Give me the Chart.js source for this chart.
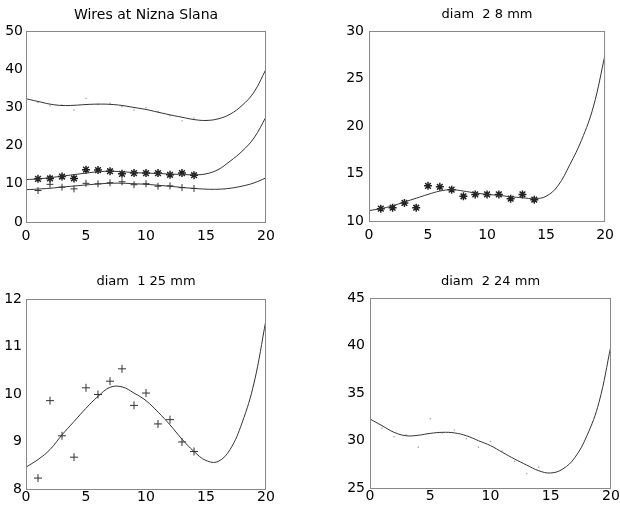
<!DOCTYPE html>
<html>
<head>
<meta charset="utf-8">
<script src="https://cdn.jsdelivr.net/npm/chart.js@4/dist/chart.umd.min.js"></script>
<style>
  body { margin: 0; background: #fff; }
  canvas { position: absolute; }
</style>
</head>
<body>
<canvas id="wires" width="310" height="256" style="left:0;top:0"></canvas>
<canvas id="d28" width="310" height="256" style="left:310px;top:0"></canvas>
<canvas id="d125" width="310" height="256" style="left:0;top:256px"></canvas>
<canvas id="d224" width="310" height="256" style="left:310px;top:256px"></canvas>
<script>
// measured points (x = 1..14)
var xPts = [1, 2, 3, 4, 5, 6, 7, 8, 9, 10, 11, 12, 13, 14];
var pts125 = [8.23, 9.86, 9.12, 8.67, 10.13, 9.99, 10.27, 10.53, 9.76, 10.02, 9.37, 9.46, 8.99, 8.79];
var pts28 = [11.3, 11.4, 11.9, 11.4, 13.7, 13.6, 13.3, 12.6, 12.8, 12.8, 12.8, 12.35, 12.8, 12.25];
var pts224 = [31.3, 30.4, 30.6, 29.3, 32.3, 30.8, 31.1, 30.2, 29.3, 29.9, 28.9, 27.8, 26.5, 27.2];

// fitted curves read at x = 0..20
var xFit = [0, 1, 2, 3, 4, 5, 6, 7, 8, 9, 10, 11, 12, 13, 14, 15, 16, 17, 18, 19, 20];
var fit125 = [8.46, 8.62, 8.83, 9.14, 9.42, 9.7, 9.95, 10.14, 10.15, 10.02, 9.86, 9.62, 9.35, 9.05, 8.79, 8.6, 8.58, 8.83, 9.39, 10.23, 11.56];
var fit28 = [11.1, 11.3, 11.6, 12.0, 12.4, 12.8, 13.15, 13.3, 13.15, 12.95, 12.8, 12.7, 12.55, 12.45, 12.35, 12.6, 13.7, 15.9, 18.5, 22.0, 27.5];
var fit224 = [32.26, 31.56, 30.86, 30.5, 30.55, 30.75, 30.86, 30.8, 30.5, 29.98, 29.46, 28.75, 28.05, 27.42, 26.82, 26.58, 27.0, 28.2, 30.5, 34.0, 40.0];

var FONT = 'DejaVu Sans';

function xy(xs, ys) {
  return xs.map(function (x, i) { return { x: x, y: ys[i] }; });
}

function curve(ys) {
  return {
    data: xy(xFit, ys),
    showLine: true,
    borderColor: '#333',
    borderWidth: 1,
    pointRadius: 0,
    tension: 0.4
  };
}

function marks(ys, style, r, color, bw) {
  return {
    data: xy(xPts, ys),
    showLine: false,
    pointStyle: style,
    pointRadius: r,
    borderColor: color,
    backgroundColor: color,
    pointBorderWidth: bw
  };
}

// box around the plot area
var frame = {
  id: 'frame',
  afterDraw: function (chart) {
    var a = chart.chartArea, ctx = chart.ctx;
    ctx.save();
    ctx.strokeStyle = '#888';
    ctx.lineWidth = 1;
    ctx.strokeRect(a.left + 0.5, a.top + 0.5, a.width - 1, a.height);
    ctx.restore();
  }
};

function makeChart(id, title, titleSize, titlePad, datasets, y, lay) {
  return new Chart(document.getElementById(id).getContext('2d'), {
    type: 'scatter',
    data: { datasets: datasets },
    options: {
      responsive: false,
      animation: false,
      layout: { padding: { left: 0, right: lay.right, top: 0, bottom: 0 } },
      plugins: {
        legend: { display: false },
        tooltip: { enabled: false },
        title: {
          display: true,
          text: title,
          fullSize: false,
          color: '#000',
          font: { family: FONT, size: titleSize, weight: 'normal' },
          padding: titlePad
        }
      },
      scales: {
        x: {
          type: 'linear', min: 0, max: 20,
          ticks: { stepSize: 5, color: '#000', font: { family: FONT, size: 14 }, padding: lay.xPad, maxRotation: 0 },
          grid: { display: false, drawTicks: false },
          border: { display: false },
          afterFit: function (s) { s.height = lay.xH; }
        },
        y: {
          min: y[0], max: y[1],
          ticks: { stepSize: y[2], color: '#000', font: { family: FONT, size: 14 }, padding: lay.yPad },
          grid: { display: false, drawTicks: false },
          border: { display: false },
          afterFit: function (s) { s.width = lay.yW; }
        }
      }
    },
    plugins: [frame]
  });
}

makeChart('wires', 'Wires at Nizna Slana', 14, { top: 7, bottom: 7.2 }, [
  curve(fit224), curve(fit28), curve(fit125),
  marks(pts224, 'circle', 0.8, '#aaa', 0),
  marks(pts28, 'star', 4, '#222', 1.5),
  marks(pts125, 'cross', 3.5, '#333', 1)
], [0, 50, 10], { right: 44, yW: 26, xH: 34, xPad: 6, yPad: 3 });

makeChart('d28', 'diam  2 8 mm', 13, { top: 7, bottom: 8.4 }, [
  curve(fit28),
  marks(pts28, 'star', 4, '#222', 1.5)
], [10, 30, 5], { right: 11, yW: 59, xH: 35, xPad: 6, yPad: 5 });

makeChart('d125', 'diam  1 25 mm', 13, { top: 18, bottom: 9.4 }, [
  curve(fit125),
  marks(pts125, 'cross', 4, '#333', 1)
], [8, 12, 1], { right: 44, yW: 26, xH: 23, xPad: 0, yPad: 4 });

makeChart('d224', 'diam  2 24 mm', 13, { top: 18, bottom: 8.4 }, [
  curve(fit224),
  marks(pts224, 'circle', 0.8, '#aaa', 0)
], [25, 45, 5], { right: 9, yW: 60, xH: 24, xPad: 0, yPad: 5 });
</script>
</body>
</html>
